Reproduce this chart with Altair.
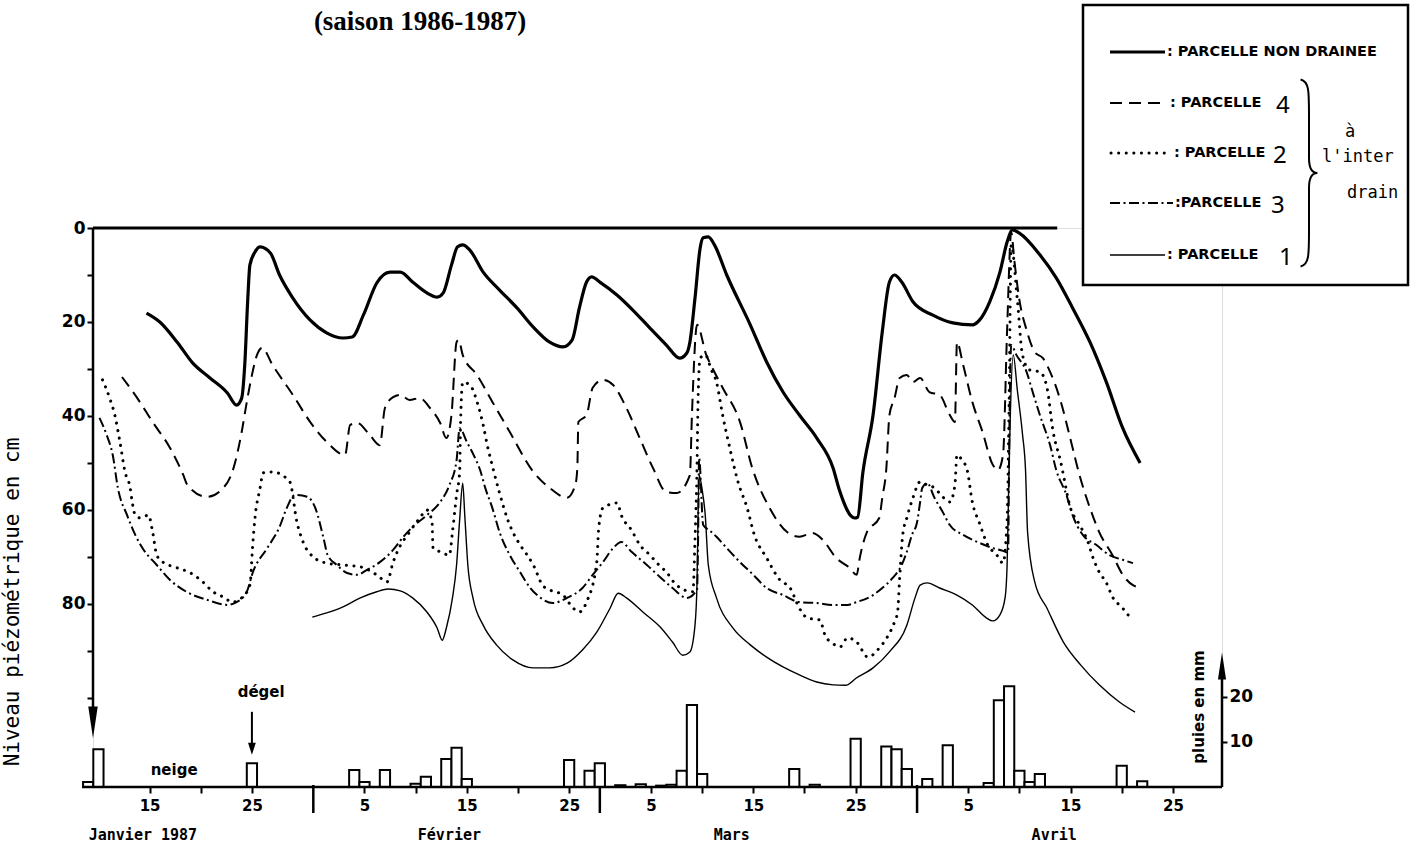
import altair as alt
import pandas as pd

# Water-table depth (cm below soil surface) against day of year 1987
NON_DRAINEE = [(14.7,18.1),(16.0,20.0),(17.7,24.3),(19.2,28.7),(20.9,31.9),(22.6,35.1),(23.5,37.7),(24.0,36.2),
    (24.3,29.1),(24.6,14.9),(24.8,7.9),(25.3,5.1),(25.8,4.0),(26.8,5.3),(27.7,10.0),(29.0,14.9),(30.7,19.6),
    (32.3,22.3),(33.9,23.4),(34.8,23.2),(35.9,18.5),(37.2,11.7),(38.5,9.4),(39.5,9.4),(40.7,11.5),(42.1,13.8),
    (43.1,14.7),(43.7,13.8),(44.5,7.9),(45.1,4.0),(45.6,3.6),(46.3,4.7),(47.6,9.4),(49.2,13.2),(50.9,17.0),
    (52.5,21.1),(54.1,24.3),(55.4,25.3),(56.3,23.8),(57.0,17.0),(57.7,11.5),(58.2,10.4),(59.0,11.5),(60.7,14.3),
    (62.2,17.4),(63.9,21.3),(65.5,24.9),(66.8,27.7),(67.5,26.6),(67.8,24.3),(68.3,14.9),(68.8,4.3),(69.1,2.1),
    (69.6,1.9),(70.2,3.6),(71.4,10.0),(73.7,20.6),(75.3,28.5),(76.9,34.9),(78.5,39.8),(80.2,44.7),(81.8,51.1),
    (82.4,55.7),(83.9,61.7),(84.2,61.5),(84.7,52.1),(85.7,39.8),(86.6,22.1),(87.3,11.5),(87.8,10.0),(88.5,11.5),
    (89.6,15.7),(91.5,18.5),(93.5,20.2),(95.4,20.6),(96.1,19.6),(97.1,15.7),(98.1,9.4),(98.8,3.0),(99.3,0.4),
    (100.0,1.1),(102.0,5.7),(103.6,10.6),(105.2,17.0),(106.9,24.3),(108.5,32.8),(110.1,42.6),(111.8,50.0)]

PARCELLE_4 = [(12.3,31.7),(13.8,36.2),(15.3,41.3),(17.0,46.8),(18.3,52.6),(18.7,54.7),(20.6,57.2),(22.2,55.3),
    (23.2,51.1),(24.0,43.4),(24.5,37.0),(25.0,31.3),(25.5,27.0),(26.0,25.5),(27.0,29.1),(29.0,35.5),(30.7,41.3),
    (32.3,45.5),(34.1,48.3),(34.6,41.9),(35.3,41.5),(36.5,44.0),(37.5,46.2),(38.0,38.3),(38.8,36.0),(39.5,35.5),
    (40.4,36.6),(41.4,36.2),(42.4,38.3),(43.4,41.5),(44.0,44.7),(44.5,39.8),(45.0,24.3),(45.2,23.8),(45.6,27.0),
    (47.0,31.3),(48.5,37.0),(50.2,43.4),(52.5,51.9),(54.1,55.3),(55.8,57.4),(56.6,54.7),(56.8,51.1),(56.9,41.3),
    (57.7,39.8),(58.3,34.0),(59.3,32.3),(60.3,33.4),(61.6,38.3),(62.9,44.7),(64.2,51.1),(65.5,56.2),(66.5,56.4),
    (67.8,52.6),(68.0,39.8),(68.5,20.6),(69.4,27.0),(70.0,29.8),(71.0,34.0),(72.7,41.3),(73.9,51.1),(75.6,59.6),
    (77.3,64.7),(78.5,65.7),(79.8,64.9),(80.8,66.4),(82.1,70.2),(83.4,72.3),(84.1,73.8),(84.4,70.2),(85.1,64.7),
    (86.3,61.7),(86.6,57.4),(87.0,51.1),(87.3,39.8),(87.8,36.2),(88.3,31.9),(89.0,31.3),(89.6,32.8),(90.3,31.9),
    (91.2,34.9),(92.2,35.5),(93.2,39.8),(93.7,41.3),(93.9,24.3),(94.5,29.1),(95.4,37.0),(96.4,43.4),(97.4,50.4),
    (97.9,51.5),(98.4,48.3),(98.8,21.7),(99.2,0.9),(99.5,6.8),(100.0,15.3),(100.7,21.7),(101.5,26.4),(102.3,27.7),
    (103.0,30.6),(104.0,36.6),(105.0,45.0),(105.8,52.0),(106.9,59.6),(107.8,64.7),(109.1,69.6),(110.1,73.8),
    (111.1,76.0),(112.0,76.6)]

PARCELLE_2 = [(10.4,32.3),(11.1,36.2),(11.6,39.8),(12.1,45.5),(12.6,51.9),(13.1,55.3),(13.3,58.3),(13.6,61.1),
    (14.1,61.7),(14.9,61.1),(15.3,64.7),(15.7,69.6),(16.3,71.1),(17.7,72.3),(19.0,73.4),(20.2,75.3),(21.2,77.4),
    (22.2,78.5),(23.1,79.6),(24.0,78.7),(24.8,76.0),(25.1,66.8),(25.3,61.7),(25.8,55.3),(26.1,52.1),(27.0,51.9),
    (28.7,54.0),(29.4,62.6),(30.0,66.8),(31.0,70.0),(32.3,71.3),(33.9,71.7),(35.6,72.1),(37.2,73.8),(38.2,75.3),
    (38.8,71.1),(39.2,68.9),(40.4,64.7),(41.4,61.7),(42.1,60.0),(42.6,62.6),(42.7,68.1),(43.4,68.9),(44.3,69.6),
    (44.6,64.7),(45.0,56.8),(45.3,51.9),(45.4,40.9),(45.6,32.8),(46.3,33.4),(47.1,37.7),(47.6,41.9),(48.0,46.2),
    (48.6,51.5),(49.2,56.4),(50.0,62.1),(50.5,64.7),(51.2,67.4),(51.9,69.6),(52.5,71.7),(53.4,76.0),(54.1,77.0),
    (55.4,78.1),(56.4,80.9),(57.0,81.7),(57.7,79.6),(58.7,71.1),(58.9,63.6),(59.3,59.6),(60.7,58.5),(61.1,61.1),
    (62.1,64.3),(62.9,67.4),(63.9,69.6),(64.6,71.3),(65.5,73.2),(66.5,76.0),(68.1,77.4),(68.3,66.4),(68.5,50.4),
    (68.6,36.6),(68.8,27.7),(69.3,27.0),(69.9,30.2),(70.4,32.8),(71.0,39.8),(71.7,46.8),(72.5,54.0),(73.4,59.6),
    (74.1,65.3),(75.3,70.2),(76.6,74.9),(77.6,76.6),(78.5,80.9),(79.3,83.0),(80.5,83.4),(81.0,86.6),(81.7,88.3),
    (82.5,89.1),(83.2,87.2),(84.1,88.1),(85.2,91.3),(86.3,89.4),(87.1,87.0),(87.8,83.8),(88.1,81.7),(88.3,74.5),
    (88.6,65.3),(89.0,61.7),(89.6,57.4),(90.3,54.0),(91.0,54.7),(91.7,55.3),(92.5,57.2),(93.2,58.3),(93.7,54.7),
    (93.9,48.3),(94.4,49.4),(94.9,51.5),(95.4,58.3),(96.1,62.8),(96.9,67.4),(97.8,69.6),(98.4,71.3),(98.8,62.1),
    (99.0,36.6),(99.2,3.6),(99.8,15.3),(100.3,27.0),(101.0,30.2),(102.0,30.6),(102.7,34.0),(103.3,43.4),
    (104.0,49.4),(105.0,59.6),(105.9,63.2),(106.7,66.8),(107.2,70.2),(107.8,73.2),(108.5,75.5),(109.1,78.5),
    (110.1,80.9),(111.0,83.4)]

PARCELLE_3 = [(10.1,40.4),(10.8,44.0),(11.4,48.3),(11.9,55.3),(12.8,61.1),(13.6,65.3),(14.3,68.1),(15.7,71.7),
    (17.0,74.9),(18.6,77.4),(20.6,79.1),(22.6,80.2),(23.5,79.6),(24.5,77.4),(25.1,73.2),(26.5,68.1),(27.7,63.6),
    (28.4,59.6),(29.2,56.8),(30.4,57.2),(31.2,59.6),(32.0,66.0),(32.4,69.6),(33.3,71.7),(34.3,73.4),(35.3,73.8),
    (36.2,72.8),(37.5,71.1),(38.8,68.5),(39.8,65.7),(40.7,63.6),(42.1,61.1),(43.4,58.3),(44.3,54.7),(45.0,49.4),
    (45.3,42.6),(46.0,45.5),(46.8,48.9),(47.3,51.5),(47.8,55.3),(48.5,59.6),(49.2,64.7),(50.2,69.6),(51.2,73.2),
    (52.2,76.6),(53.1,78.5),(54.4,79.8),(55.8,78.7),(57.3,76.6),(58.3,73.8),(59.3,71.1),(60.3,68.1),(61.1,66.8),
    (62.1,68.9),(63.6,71.7),(64.9,74.3),(66.1,76.6),(67.5,78.7),(68.5,77.0),(68.6,66.4),(68.7,48.9),(69.1,63.2),
    (69.7,64.3),(70.4,65.7),(71.4,68.1),(72.7,71.1),(74.0,73.8),(75.3,76.6),(76.9,78.1),(78.5,79.6),(80.2,79.8),
    (81.8,80.2),(83.2,80.2),(84.1,79.6),(85.7,78.1),(86.6,76.6),(87.6,74.5),(88.5,71.7),(89.0,68.9),(89.5,65.3),
    (90.0,62.6),(90.3,58.3),(90.5,55.3),(91.0,54.3),(91.7,57.4),(92.5,60.4),(93.2,63.2),(94.5,65.3),(96.1,67.0),
    (97.4,68.1),(98.4,68.7),(98.9,69.1),(99.0,47.2),(99.2,24.9),(99.7,27.0),(100.7,30.6),(101.3,34.9),
    (102.0,39.8),(103.0,46.2),(103.6,51.5),(104.6,56.8),(105.2,61.1),(106.2,65.3),(107.5,67.4),(108.8,69.6),
    (110.1,70.6),(111.1,71.3)]

PARCELLE_1 = [(30.9,82.8),(32.3,81.9),(33.9,80.6),(35.6,78.7),(37.2,77.4),(38.3,76.8),(39.5,77.2),(40.7,78.7),
    (42.1,81.7),(43.1,85.1),(43.6,87.7),(44.0,85.1),(44.6,78.7),(45.0,71.7),(45.3,62.1),(45.6,54.3),(45.8,61.1),
    (46.1,71.7),(46.6,78.7),(47.6,84.5),(48.9,88.7),(50.5,91.9),(52.5,93.6),(54.1,93.6),(55.8,92.6),(57.3,89.8),
    (58.7,86.0),(60.0,80.9),(60.8,77.7),(61.6,78.7),(63.2,81.7),(64.9,84.9),(66.1,88.1),(67.1,90.9),(67.8,90.2),
    (68.3,84.5),(68.5,75.3),(68.6,61.1),(68.7,52.6),(69.0,55.7),(69.3,61.1),(69.6,71.7),(70.4,78.7),(72.0,85.1),
    (73.7,88.7),(75.3,91.3),(76.9,93.4),(78.5,95.1),(80.2,96.6),(81.8,97.2),(83.0,97.3),(84.1,95.7),(85.7,93.6),
    (87.3,90.2),(89.0,84.5),(89.8,78.7),(90.3,76.0),(91.0,75.5),(92.2,76.6),(93.9,78.1),(95.4,80.2),(96.8,83.0),
    (97.4,83.6),(98.1,82.3),(98.6,78.7),(98.8,71.7),(98.9,61.1),(99.1,40.9),(99.4,27.0),(99.8,34.5),(100.3,43.8),
    (100.6,51.5),(100.8,64.7),(101.5,75.3),(102.7,80.9),(104.3,88.1),(106.0,93.0),(107.8,97.2),(109.8,100.9),
    (111.3,103.0)]

# Daily rainfall (mm)
RAIN_DAY = [9, 10, 25, 35, 36, 38, 41, 42, 44, 45, 46, 56, 58, 59, 61, 63, 65, 66, 67, 68, 69, 78, 80,
            84, 87, 88, 89, 91, 93, 97, 98, 99, 100, 101, 102, 110, 112]
RAIN_MM = [1.1, 8.4, 5.3, 3.8, 1.1, 3.8, 0.7, 2.3, 6.2, 8.7, 1.8, 6.0, 3.6, 5.3, 0.4, 0.6, 0.3, 0.5, 3.6, 18.2,
           2.9, 4.0, 0.5, 10.7, 9.0, 8.4, 4.0, 1.8, 9.3, 0.9, 19.3, 22.4, 3.6, 1.1, 2.9, 4.7, 1.3]

TICK_DAYS = [15, 20, 25, 36, 41, 46, 51, 56, 64, 69, 74, 79, 84, 95, 100, 105, 110, 115]
LABEL_DAYS = [15, 25, 36, 46, 56, 64, 74, 84, 95, 105, 115]
MONTH_ENDS = [31, 59, 90]
MONTH_NAMES = ["Janvier 1987", "Février", "Mars", "Avril"]
MONTH_CENTRES = [14.35, 44.3, 71.9, 103.4]
DEPTH_TICKS = [0, 10, 20, 30, 40, 50, 60, 70, 80, 90, 100]
RAIN_TICKS = [10, 20]

W, H = 1129, 559
BOLD = "DejaVu Sans"
MONO = "DejaVu Sans Mono"

xs = alt.Scale(domain=[9.47, 119.8], nice=False, zero=False)
cms = alt.Scale(domain=[0, 118.94], reverse=True, nice=False, zero=False)
mms = alt.Scale(domain=[0, 124.2], nice=False, zero=False)

label_list = ",".join(str(d) for d in LABEL_DAYS)
x_axis = alt.Axis(
    values=TICK_DAYS, title=None, grid=False, domain=False,
    tickSize=6, tickWidth=2, tickColor="black",
    labelExpr=(f"indexof([{label_list}], datum.value) >= 0 ? "
               "(datum.value <= 31 ? datum.value : datum.value <= 59 ? datum.value - 31 : "
               "datum.value <= 90 ? datum.value - 59 : datum.value - 90) : ''"),
    labelFont=BOLD, labelFontWeight="bold", labelFontSize=15, labelColor="black",
    labelPadding=5, labelOverlap=False, labelFlush=False)
cm_axis = alt.Axis(
    values=DEPTH_TICKS, title=None, grid=False, domain=False, orient="left",
    tickSize=6, tickWidth=2, tickColor="black",
    labelExpr="datum.value <= 80 && datum.value % 20 == 0 ? datum.value : ''",
    labelFont=BOLD, labelFontWeight="bold", labelFontSize=17, labelColor="black",
    labelPadding=2, labelOverlap=False)
mm_axis = alt.Axis(
    values=RAIN_TICKS, title=None, grid=False, domain=False, orient="right",
    tickSize=5, tickWidth=2, tickColor="black",
    labelFont=BOLD, labelFontWeight="bold", labelFontSize=17, labelColor="black",
    labelPadding=2)


def X(field):
    return alt.X(field, scale=xs, axis=x_axis)


def Ycm(field):
    return alt.Y(field, scale=cms, axis=cm_axis)


def Ymm(field):
    return alt.Y(field, scale=mms, axis=mm_axis)


one = pd.DataFrame({"k": [0]})


def px_text(s, x, y, size, font=BOLD, weight="bold", align="left", angle=0):
    return alt.Chart(one).mark_text(
        text=s, font=font, fontWeight=weight, fontSize=size, align=align,
        baseline="middle", angle=angle, color="black").encode(x=alt.value(x), y=alt.value(y))


def px_rule(x1, x2, y, width, dash=None, cap="butt"):
    kw = dict(color="black", strokeWidth=width, strokeCap=cap)
    if dash:
        kw["strokeDash"] = dash
    return alt.Chart(one).mark_rule(**kw).encode(
        x=alt.value(x1), x2=alt.value(x2), y=alt.value(y))


STYLES = {
    "nd": dict(strokeWidth=3.2),
    "p4": dict(strokeWidth=2, strokeDash=[12, 7]),
    "p2": dict(strokeWidth=3, strokeDash=[0.1, 7.5], strokeCap="round"),
    "p3": dict(strokeWidth=2, strokeDash=[10, 3.5, 2, 3.5]),
    "p1": dict(strokeWidth=1.4),
}


def curve(points, style):
    df = pd.DataFrame(points, columns=["day", "cm"])
    return alt.Chart(df).mark_line(color="black", interpolate="monotone", **STYLES[style]).encode(
        x=X("day:Q"), y=Ycm("cm:Q"))


# ---- piezometric panel -------------------------------------------------
surface = alt.Chart(pd.DataFrame({"d0": [9.47], "d1": [103.7], "cm": [0]})).mark_rule(
    color="black", strokeWidth=3).encode(x=X("d0:Q"), x2="d1:Q", y=Ycm("cm:Q"))
left_axis = alt.Chart(pd.DataFrame({"a": [0], "b": [104]})).mark_rule(
    color="black", strokeWidth=2.5).encode(x=alt.value(0), y=Ycm("a:Q"), y2="b:Q")
left_head = alt.Chart(pd.DataFrame({"cm": [105.2]})).mark_point(
    shape="M-0.3,-1L0.3,-1L0,1Z", size=1000, filled=True, opacity=1, color="black").encode(
    x=alt.value(0), y=Ycm("cm:Q"))

months = alt.Chart(pd.DataFrame({"day": MONTH_CENTRES, "name": MONTH_NAMES})).mark_text(
    font=MONO, fontWeight="bold", fontSize=15, align="center", baseline="middle", color="black").encode(
    x=X("day:Q"), y=alt.value(607), text="name:N")
separators = alt.Chart(pd.DataFrame({"day": MONTH_ENDS})).mark_rule(
    color="black", strokeWidth=2.5).encode(x=X("day:Q"), y=alt.value(H - 2), y2=alt.value(H + 26))

brace = ("M-0.09,-1 C0.0,-0.98 0.0,-0.88 0.0,-0.62 L0.0,-0.16 C0.0,-0.05 0.03,0 0.09,0 "
         "C0.03,0 0.0,0.05 0.0,0.16 L0.0,0.62 C0.0,0.88 0.0,0.98 -0.09,1")

legend = [
    alt.Chart(one).mark_rect(fill="white", stroke="black", strokeWidth=2.5).encode(
        x=alt.value(990), x2=alt.value(1315), y=alt.value(-223), y2=alt.value(57)),
    px_rule(1017, 1072, -176, 3.2),
    px_text(": PARCELLE NON DRAINEE", 1074, -176, 14.5),
    px_rule(1017, 1074, -125, 2, [12, 7]),
    px_text(": PARCELLE", 1077, -125, 14.5),
    px_text("4", 1183, -122, 24, font="Noto Sans", weight="normal"),
    px_rule(1018, 1074, -75, 3, [0.1, 7.5], "round"),
    px_text(": PARCELLE", 1081, -75, 14.5),
    px_text("2", 1180, -72, 24, font="Noto Sans", weight="normal"),
    px_rule(1017, 1080, -25, 2, [10, 3.5, 2, 3.5]),
    px_text(":PARCELLE", 1082, -25, 14.5),
    px_text("3", 1178, -22, 24, font="Noto Sans", weight="normal"),
    px_rule(1017, 1072, 27, 1.4),
    px_text(": PARCELLE", 1074, 27, 14.5),
    px_text("1", 1186, 30, 24, font="Noto Sans", weight="normal"),
    alt.Chart(one).mark_point(shape=brace, size=35000, filled=False, opacity=1,
                              stroke="black", strokeWidth=2).encode(
        x=alt.value(1216), y=alt.value(-55)),
    px_text("à", 1257, -96, 17, font=MONO, weight="normal", align="center"),
    px_text("l'inter", 1229, -71, 17, font=MONO, weight="normal"),
    px_text("drain", 1254, -35, 17, font=MONO, weight="normal"),
]

texts = [
    px_text("(saison 1986-1987)", 327, -206, 27, font="Liberation Serif", align="center"),
    px_text("Niveau piézométrique en cm", -80, 374, 21, font=MONO, weight="normal",
            align="center", angle=270),
    px_text("pluies en mm", 1106, 479, 15, align="center", angle=270),
]

piezo = alt.layer(
    surface, left_axis, left_head,
    curve(NON_DRAINEE, "nd"), curve(PARCELLE_4, "p4"), curve(PARCELLE_2, "p2"),
    curve(PARCELLE_3, "p3"), curve(PARCELLE_1, "p1"),
    months, separators, *texts, *legend)

# ---- rainfall panel ----------------------------------------------------
rain_df = pd.DataFrame({"day": RAIN_DAY, "mm": RAIN_MM})
rain_df["lo"] = rain_df["day"] - 0.5
rain_df["hi"] = rain_df["day"] + 0.5
rain_df["base"] = 0.0

bars = alt.Chart(rain_df).mark_rect(fill="white", stroke="black", strokeWidth=2).encode(
    x=X("lo:Q"), x2="hi:Q", y=Ymm("base:Q"), y2="mm:Q")
baseline = alt.Chart(pd.DataFrame({"d0": [8.4], "d1": [119.8], "mm": [0]})).mark_rule(
    color="black", strokeWidth=2.5).encode(x=X("d0:Q"), x2="d1:Q", y=Ymm("mm:Q"))
right_axis = alt.Chart(pd.DataFrame({"a": [0], "b": [25]})).mark_rule(
    color="black", strokeWidth=2.5).encode(x=alt.value(W), y=Ymm("a:Q"), y2="b:Q")
right_head = alt.Chart(pd.DataFrame({"mm": [26.9]})).mark_point(
    shape="M-0.3,1L0.3,1L0,-1Z", size=730, filled=True, opacity=1, color="black").encode(
    x=alt.value(W), y=Ymm("mm:Q"))

notes = pd.DataFrame({"day": [25.9, 17.4], "mm": [21.1, 3.8], "t": ["dégel", "neige"]})
note_text = alt.Chart(notes).mark_text(
    font=BOLD, fontWeight="bold", fontSize=15, align="center", baseline="middle", color="black").encode(
    x=X("day:Q"), y=Ymm("mm:Q"), text="t:N")
thaw_line = alt.Chart(pd.DataFrame({"day": [25], "a": [16.7], "b": [9.6]})).mark_rule(
    color="black", strokeWidth=2).encode(x=X("day:Q"), y=Ymm("a:Q"), y2="b:Q")
thaw_head = alt.Chart(pd.DataFrame({"day": [25], "mm": [8.5]})).mark_point(
    shape="M-0.65,-1L0.65,-1L0,1Z", size=144, filled=True, opacity=1, color="black").encode(
    x=X("day:Q"), y=Ymm("mm:Q"))

rain = alt.layer(bars, baseline, right_axis, right_head, note_text, thaw_line, thaw_head)

chart = alt.layer(piezo, rain).resolve_scale(y="independent").properties(
    width=W, height=H,
    padding={"left": 93, "top": 228, "right": 195, "bottom": 62},
    autosize=alt.AutoSizeParams(type="none"),
).configure_view(stroke=None).configure(background="white")

chart.save("out.html", embed_options={"renderer": "svg", "actions": False})
